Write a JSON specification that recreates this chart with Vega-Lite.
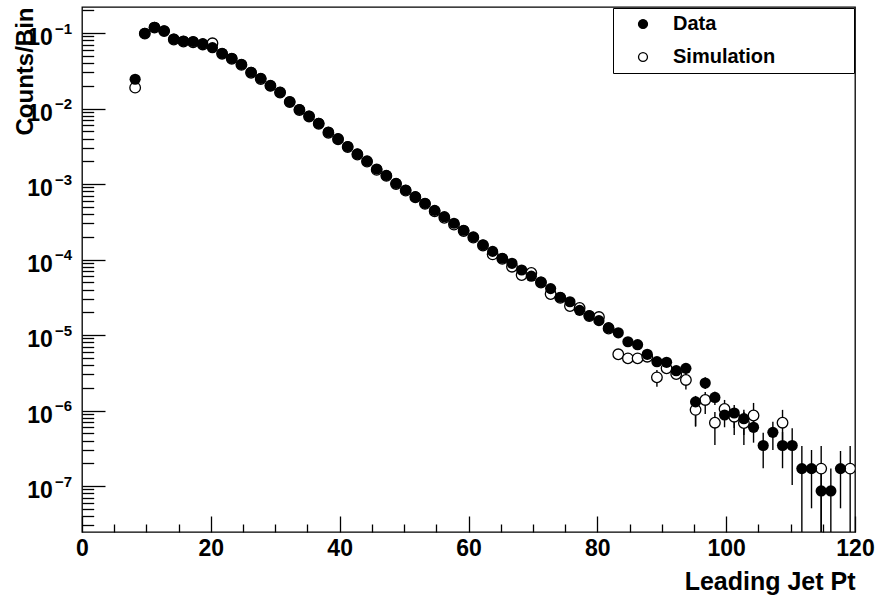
{
  "$schema": "https://vega.github.io/schema/vega-lite/v6.json",
  "width": 773,
  "height": 525,
  "autosize": {"type": "none"},
  "padding": {"left": 82, "top": 7, "right": 26, "bottom": 67},
  "background": "white",
  "config": {
    "view": {"stroke": "black", "strokeWidth": 1.3},
    "font": "Liberation Sans",
    "axis": {
      "grid": false, "domain": false, "tickColor": "black", "tickWidth": 1.3,
      "labelColor": "black", "labelFont": "Liberation Sans", "labelFontWeight": "bold",
      "titleColor": "black", "titleFont": "Liberation Sans", "titleFontWeight": "bold",
      "labelOverlap": false, "labelFlush": false
    }
  },
  "datasets": {
    "dataPts": [
      {"x": 8.25, "y": 0.0244, "s": "Data"}, {"x": 9.75, "y": 0.0991, "s": "Data"}, {"x": 11.25, "y": 0.119, "s": "Data"},
      {"x": 12.75, "y": 0.107, "s": "Data"}, {"x": 14.25, "y": 0.0833, "s": "Data"}, {"x": 15.75, "y": 0.0783, "s": "Data"},
      {"x": 17.25, "y": 0.0771, "s": "Data"}, {"x": 18.75, "y": 0.0722, "s": "Data"}, {"x": 20.25, "y": 0.0639, "s": "Data"},
      {"x": 21.75, "y": 0.0538, "s": "Data"}, {"x": 23.25, "y": 0.0462, "s": "Data"}, {"x": 24.75, "y": 0.0385, "s": "Data"},
      {"x": 26.25, "y": 0.0302, "s": "Data"}, {"x": 27.75, "y": 0.0251, "s": "Data"}, {"x": 29.25, "y": 0.0200, "s": "Data"},
      {"x": 30.75, "y": 0.0164, "s": "Data"}, {"x": 32.25, "y": 0.0123, "s": "Data"}, {"x": 33.75, "y": 0.0097, "s": "Data"},
      {"x": 35.25, "y": 0.00796, "s": "Data"}, {"x": 36.75, "y": 0.00637, "s": "Data"}, {"x": 38.25, "y": 0.00488, "s": "Data"},
      {"x": 39.75, "y": 0.00398, "s": "Data"}, {"x": 41.25, "y": 0.00314, "s": "Data"}, {"x": 42.75, "y": 0.00250, "s": "Data"},
      {"x": 44.25, "y": 0.00202, "s": "Data"}, {"x": 45.75, "y": 0.00158, "s": "Data"}, {"x": 47.25, "y": 0.00130, "s": "Data"},
      {"x": 48.75, "y": 0.00102, "s": "Data"}, {"x": 50.25, "y": 0.000833, "s": "Data"}, {"x": 51.75, "y": 0.000679, "s": "Data"},
      {"x": 53.25, "y": 0.000555, "s": "Data"}, {"x": 54.75, "y": 0.000448, "s": "Data"}, {"x": 56.25, "y": 0.000369, "s": "Data"},
      {"x": 57.75, "y": 0.000302, "s": "Data"}, {"x": 59.25, "y": 0.000244, "s": "Data"}, {"x": 60.75, "y": 0.000199, "s": "Data"},
      {"x": 62.25, "y": 0.000157, "s": "Data"}, {"x": 63.75, "y": 0.000128, "s": "Data"}, {"x": 65.25, "y": 0.000104, "s": "Data"},
      {"x": 66.75, "y": 0.0000891, "s": "Data"}, {"x": 68.25, "y": 0.0000726, "s": "Data"}, {"x": 69.75, "y": 0.0000601, "s": "Data"},
      {"x": 71.25, "y": 0.0000504, "s": "Data"}, {"x": 72.75, "y": 0.0000412, "s": "Data"}, {"x": 74.25, "y": 0.0000316, "s": "Data"},
      {"x": 75.75, "y": 0.0000276, "s": "Data"}, {"x": 77.25, "y": 0.0000212, "s": "Data"}, {"x": 78.75, "y": 0.0000181, "s": "Data"},
      {"x": 80.25, "y": 0.0000155, "s": "Data"}, {"x": 81.75, "y": 0.0000125, "s": "Data"}, {"x": 83.25, "y": 0.0000107, "s": "Data"},
      {"x": 84.75, "y": 0.00000815, "s": "Data"}, {"x": 86.25, "y": 0.00000744, "s": "Data"}, {"x": 87.75, "y": 0.00000555, "s": "Data"},
      {"x": 89.25, "y": 0.00000443, "s": "Data"}, {"x": 90.75, "y": 0.00000435, "s": "Data"}, {"x": 92.25, "y": 0.00000337, "s": "Data"},
      {"x": 93.75, "y": 0.00000362, "s": "Data"}, {"x": 95.25, "y": 0.0000013, "s": "Data"}, {"x": 96.75, "y": 0.00000231, "s": "Data"},
      {"x": 98.25, "y": 0.00000149, "s": "Data"}, {"x": 99.75, "y": 8.72e-7, "s": "Data"}, {"x": 101.25, "y": 9.27e-7, "s": "Data"},
      {"x": 102.75, "y": 7.79e-7, "s": "Data"}, {"x": 104.25, "y": 5.99e-7, "s": "Data"}, {"x": 105.75, "y": 3.44e-7, "s": "Data"},
      {"x": 107.25, "y": 5.14e-7, "s": "Data"}, {"x": 108.75, "y": 3.44e-7, "s": "Data"}, {"x": 110.25, "y": 3.44e-7, "s": "Data"},
      {"x": 111.75, "y": 1.7e-7, "s": "Data"}, {"x": 113.25, "y": 1.7e-7, "s": "Data"}, {"x": 114.75, "y": 8.6e-8, "s": "Data"},
      {"x": 116.25, "y": 8.6e-8, "s": "Data"}, {"x": 117.75, "y": 1.7e-7, "s": "Data"}
    ],
    "simPts": [
      {"x": 8.25, "y": 0.0189, "s": "Simulation"}, {"x": 9.75, "y": 0.098, "s": "Simulation"}, {"x": 11.25, "y": 0.118, "s": "Simulation"},
      {"x": 12.75, "y": 0.106, "s": "Simulation"}, {"x": 14.25, "y": 0.082, "s": "Simulation"}, {"x": 15.75, "y": 0.077, "s": "Simulation"},
      {"x": 17.25, "y": 0.0755, "s": "Simulation"}, {"x": 18.75, "y": 0.0705, "s": "Simulation"}, {"x": 20.25, "y": 0.0731, "s": "Simulation"},
      {"x": 21.75, "y": 0.053, "s": "Simulation"}, {"x": 23.25, "y": 0.0455, "s": "Simulation"}, {"x": 24.75, "y": 0.0378, "s": "Simulation"},
      {"x": 26.25, "y": 0.0297, "s": "Simulation"}, {"x": 27.75, "y": 0.0246, "s": "Simulation"}, {"x": 29.25, "y": 0.0200, "s": "Simulation"},
      {"x": 30.75, "y": 0.0163, "s": "Simulation"}, {"x": 32.25, "y": 0.0122, "s": "Simulation"}, {"x": 33.75, "y": 0.00955, "s": "Simulation"},
      {"x": 35.25, "y": 0.00785, "s": "Simulation"}, {"x": 36.75, "y": 0.00628, "s": "Simulation"}, {"x": 38.25, "y": 0.00478, "s": "Simulation"},
      {"x": 39.75, "y": 0.00392, "s": "Simulation"}, {"x": 41.25, "y": 0.00309, "s": "Simulation"}, {"x": 42.75, "y": 0.00246, "s": "Simulation"},
      {"x": 44.25, "y": 0.00198, "s": "Simulation"}, {"x": 45.75, "y": 0.00154, "s": "Simulation"}, {"x": 47.25, "y": 0.00128, "s": "Simulation"},
      {"x": 48.75, "y": 0.00100, "s": "Simulation"}, {"x": 50.25, "y": 0.000818, "s": "Simulation"}, {"x": 51.75, "y": 0.000668, "s": "Simulation"},
      {"x": 53.25, "y": 0.000545, "s": "Simulation"}, {"x": 54.75, "y": 0.000436, "s": "Simulation"}, {"x": 56.25, "y": 0.000357, "s": "Simulation"},
      {"x": 57.75, "y": 0.000290, "s": "Simulation"}, {"x": 59.25, "y": 0.000239, "s": "Simulation"}, {"x": 60.75, "y": 0.000195, "s": "Simulation"},
      {"x": 62.25, "y": 0.000153, "s": "Simulation"}, {"x": 63.75, "y": 0.000117, "s": "Simulation"}, {"x": 65.25, "y": 0.000102, "s": "Simulation"},
      {"x": 66.75, "y": 0.0000803, "s": "Simulation"}, {"x": 68.25, "y": 0.0000623, "s": "Simulation"}, {"x": 69.75, "y": 0.0000663, "s": "Simulation"},
      {"x": 71.25, "y": 0.0000495, "s": "Simulation"}, {"x": 72.75, "y": 0.0000349, "s": "Simulation"}, {"x": 74.25, "y": 0.0000310, "s": "Simulation"},
      {"x": 75.75, "y": 0.0000242, "s": "Simulation"}, {"x": 77.25, "y": 0.0000228, "s": "Simulation"}, {"x": 78.75, "y": 0.0000178, "s": "Simulation"},
      {"x": 80.25, "y": 0.0000173, "s": "Simulation"}, {"x": 81.75, "y": 0.0000122, "s": "Simulation"}, {"x": 83.25, "y": 0.00000555, "s": "Simulation"},
      {"x": 84.75, "y": 0.00000491, "s": "Simulation"}, {"x": 86.25, "y": 0.00000491, "s": "Simulation"}, {"x": 87.75, "y": 0.00000516, "s": "Simulation"},
      {"x": 89.25, "y": 0.00000275, "s": "Simulation"}, {"x": 90.75, "y": 0.00000362, "s": "Simulation"}, {"x": 92.25, "y": 0.00000304, "s": "Simulation"},
      {"x": 93.75, "y": 0.00000254, "s": "Simulation"}, {"x": 95.25, "y": 0.00000102, "s": "Simulation"}, {"x": 96.75, "y": 0.00000138, "s": "Simulation"},
      {"x": 98.25, "y": 6.89e-7, "s": "Simulation"}, {"x": 99.75, "y": 1.05e-6, "s": "Simulation"}, {"x": 101.25, "y": 8.28e-7, "s": "Simulation"},
      {"x": 102.75, "y": 6.83e-7, "s": "Simulation"}, {"x": 104.25, "y": 8.59e-7, "s": "Simulation"}, {"x": 108.75, "y": 6.89e-7, "s": "Simulation"},
      {"x": 114.75, "y": 1.7e-7, "s": "Simulation"}, {"x": 119.25, "y": 1.7e-7, "s": "Simulation"}
    ],
    "dataErr": [
      {"x": 95.25, "lo": 6.1e-7, "hi": 1.56e-6}, {"x": 96.75, "lo": 1.93e-6, "hi": 2.75e-6},
      {"x": 98.25, "lo": 1.18e-6, "hi": 1.77e-6}, {"x": 99.75, "lo": 6.0e-7, "hi": 1.11e-6},
      {"x": 101.25, "lo": 4.74e-7, "hi": 1.18e-6}, {"x": 102.75, "lo": 3.49e-7, "hi": 1.02e-6},
      {"x": 104.25, "lo": 3.75e-7, "hi": 9.55e-7}, {"x": 105.75, "lo": 1.72e-7, "hi": 5.08e-7},
      {"x": 107.25, "lo": 3.0e-7, "hi": 7.11e-7}, {"x": 108.75, "lo": 1.72e-7, "hi": 5.19e-7},
      {"x": 110.25, "lo": 1.03e-7, "hi": 5.81e-7}, {"x": 111.75, "lo": 1e-9, "hi": 3.39e-7},
      {"x": 113.25, "lo": 5.07e-8, "hi": 3.0e-7}, {"x": 114.75, "lo": 1e-9, "hi": 1.63e-7},
      {"x": 116.25, "lo": 1e-9, "hi": 1.7e-7}, {"x": 117.75, "lo": 5.07e-8, "hi": 2.91e-7}
    ],
    "simErr": [
      {"x": 89.25, "lo": 2.07e-6, "hi": 3.44e-6}, {"x": 93.75, "lo": 1.9e-6, "hi": 3.3e-6},
      {"x": 95.25, "lo": 6.23e-7, "hi": 1.38e-6}, {"x": 96.75, "lo": 8.98e-7, "hi": 1.76e-6},
      {"x": 98.25, "lo": 3.49e-7, "hi": 9.55e-7}, {"x": 99.75, "lo": 7.48e-7, "hi": 1.38e-6},
      {"x": 101.25, "lo": 5.86e-7, "hi": 1.08e-6}, {"x": 102.75, "lo": 4.74e-7, "hi": 9.55e-7},
      {"x": 104.25, "lo": 5.86e-7, "hi": 1.26e-6}, {"x": 108.75, "lo": 4.07e-7, "hi": 1.02e-6},
      {"x": 114.75, "lo": 1e-9, "hi": 3.39e-7}, {"x": 119.25, "lo": 1e-9, "hi": 3.39e-7}
    ]
  },
  "resolve": {"axis": {"x": "independent", "y": "independent"}},
  "layer": [
    {
      "data": {"name": "simErr"},
      "mark": {"type": "rule", "color": "black", "strokeWidth": 1.4, "clip": true},
      "encoding": {
        "x": {"field": "x", "type": "quantitative", "scale": {"domain": [0, 120], "nice": false, "zero": false},
          "axis": {"orient": "bottom", "values": [0, 20, 40, 60, 80, 100, 120], "tickSize": -16, "labels": false,
            "title": "Leading Jet Pt", "titleFontSize": 25, "titleAnchor": "end", "titleAlign": "right",
            "titleX": 773, "titleY": 57, "titleBaseline": "alphabetic"}},
        "y": {"field": "lo", "type": "quantitative", "scale": {"type": "log", "domain": [2.46e-8, 0.221], "nice": false},
          "axis": {"orient": "left", "values": [1e-7, 1e-6, 1e-5, 1e-4, 1e-3, 1e-2, 1e-1], "tickSize": -23, "labels": false,
            "title": "Counts/Bin", "titleFontSize": 24, "titleAngle": -90, "titleAnchor": "end", "titleAlign": "right",
            "titleX": -50, "titleY": 0, "titleBaseline": "alphabetic"}},
        "y2": {"field": "hi"}
      }
    },
    {
      "data": {"name": "dataErr"},
      "mark": {"type": "rule", "color": "black", "strokeWidth": 1.4, "clip": true},
      "encoding": {
        "x": {"field": "x", "type": "quantitative",
          "axis": {"orient": "bottom", "values": [5, 10, 15, 25, 30, 35, 45, 50, 55, 65, 70, 75, 85, 90, 95, 105, 110, 115], "tickSize": -8, "labels": false, "title": null}},
        "y": {"field": "lo", "type": "quantitative",
          "axis": {"orient": "left", "tickSize": -11.7, "labels": false, "title": null,
            "values": [3e-8, 4e-8, 5e-8, 6e-8, 7e-8, 8e-8, 9e-8,
              2e-7, 3e-7, 4e-7, 5e-7, 6e-7, 7e-7, 8e-7, 9e-7,
              2e-6, 3e-6, 4e-6, 5e-6, 6e-6, 7e-6, 8e-6, 9e-6,
              2e-5, 3e-5, 4e-5, 5e-5, 6e-5, 7e-5, 8e-5, 9e-5,
              0.0002, 0.0003, 0.0004, 0.0005, 0.0006, 0.0007, 0.0008, 0.0009,
              0.002, 0.003, 0.004, 0.005, 0.006, 0.007, 0.008, 0.009,
              0.02, 0.03, 0.04, 0.05, 0.06, 0.07, 0.08, 0.09, 0.2]}},
        "y2": {"field": "hi"}
      }
    },
    {
      "data": {"name": "simPts"},
      "mark": {"type": "point", "shape": "circle", "filled": true, "size": 112, "stroke": "black", "strokeWidth": 1.3, "strokeOpacity": 1, "opacity": 1, "clip": true},
      "encoding": {
        "x": {"field": "x", "type": "quantitative",
          "axis": {"orient": "bottom", "values": [0, 20, 40, 60, 80, 100, 120], "ticks": false, "labelFontSize": 23, "labelPadding": 5, "labelBaseline": "top", "title": null}},
        "y": {"field": "y", "type": "quantitative",
          "axis": {"orient": "left", "values": [1e-7, 1e-6, 1e-5, 1e-4, 1e-3, 1e-2, 1e-1], "ticks": false, "labelExpr": "'10'",
            "labelFontSize": 23, "labelPadding": 29.7, "labelAlign": "right", "labelBaseline": "middle", "labelOffset": 4.5, "title": null}},
        "fill": {"field": "s", "type": "nominal", "scale": {"domain": ["Data", "Simulation"], "range": ["black", "white"]},
          "legend": {"orient": "none", "legendX": 531, "legendY": 1, "title": null, "strokeColor": "black", "fillColor": "white",
            "padding": 6, "rowPadding": 13, "symbolType": "circle", "symbolSize": 80, "symbolStrokeColor": "black", "symbolStrokeWidth": 1.3,
            "symbolOffset": 14, "labelOffset": 20, "labelLimit": 400, "labelFont": "Liberation Sans", "labelFontSize": 20, "labelFontWeight": "bold", "labelColor": "black",
            "labelExpr": "datum.label == 'Simulation' ? 'Simulation\u00a0\u00a0\u00a0\u00a0\u00a0\u00a0\u00a0\u00a0\u00a0\u00a0\u00a0\u00a0\u00a0\u200b' : datum.label"}}
      }
    },
    {
      "data": {"name": "dataPts"},
      "mark": {"type": "point", "shape": "circle", "filled": true, "size": 125, "opacity": 1, "clip": true},
      "encoding": {
        "x": {"field": "x", "type": "quantitative", "axis": null},
        "y": {"field": "y", "type": "quantitative",
          "axis": {"orient": "left", "values": [1e-7, 1e-6, 1e-5, 1e-4, 1e-3, 1e-2, 1e-1], "ticks": false,
            "labelExpr": "'−' + round(-log(datum.value) / LN10)",
            "labelFontSize": 15, "labelPadding": 10.3, "labelAlign": "right", "labelBaseline": "middle", "labelOffset": -5, "title": null}},
        "fill": {"field": "s", "type": "nominal",
          "legend": {"orient": "none", "legendX": 531, "legendY": 1, "title": null, "strokeColor": "black", "fillColor": "white",
            "padding": 6, "rowPadding": 13, "symbolType": "circle", "symbolSize": 80, "symbolStrokeColor": "black", "symbolStrokeWidth": 1.3,
            "symbolOffset": 14, "labelOffset": 20, "labelLimit": 400, "labelFont": "Liberation Sans", "labelFontSize": 20, "labelFontWeight": "bold", "labelColor": "black",
            "labelExpr": "datum.label == 'Simulation' ? 'Simulation\u00a0\u00a0\u00a0\u00a0\u00a0\u00a0\u00a0\u00a0\u00a0\u00a0\u00a0\u00a0\u00a0\u200b' : datum.label"}}
      }
    }
  ]
}
